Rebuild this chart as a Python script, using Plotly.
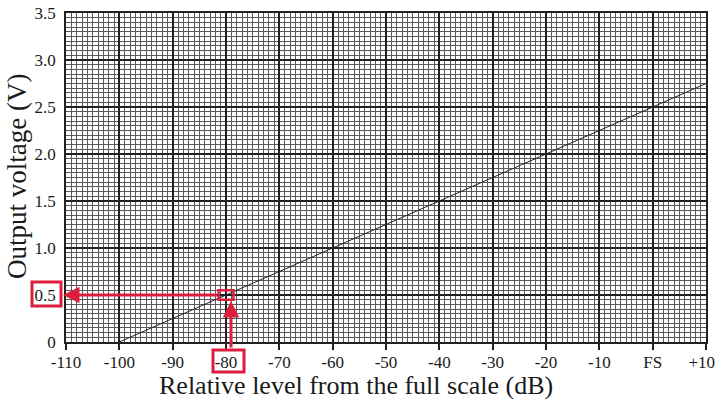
import plotly.graph_objects as go

# Data
level_db = [-100, 10]
voltage = [0.0, 2.75]
x_tick_vals = [-110, -100, -90, -80, -70, -60, -50, -40, -30, -20, -10, 0, 10]
x_tick_text = ["-110", "-100", "-90", "-80", "-70", "-60", "-50", "-40", "-30", "-20", "-10", "FS", "+10\u00a0\u00a0"]
y_tick_vals = [0, 0.5, 1.0, 1.5, 2.0, 2.5, 3.0, 3.5]
y_tick_text = ["0", "0.5", "1.0", "1.5", "2.0", "2.5", "3.0", "3.5"]
marker_db = -80
marker_v = 0.5

RED = "#dc1f3f"
INK = "#1a1a1a"
FONT = "Liberation Serif"

X0, X1 = -110, 10
Y0, Y1 = 0, 3.5

fig = go.Figure()
fig.add_trace(go.Scatter(x=level_db, y=voltage, mode="lines",
                         line=dict(color="#222222", width=1), hoverinfo="skip",
                         showlegend=False))

L, R, T, B = 66, 12, 13, 58
W, H = 718, 400
pw, ph = W - L - R, H - T - B

def px(xp):
    return (xp - L) / pw

def py(yp):
    return (H - B - yp) / ph

def dx(xp):
    return X0 + px(xp) * (X1 - X0)

def dy(yp):
    return Y0 + py(yp) * (Y1 - Y0)

fig.update_layout(
    width=W, height=H,
    margin=dict(l=L, r=R, t=T, b=B, autoexpand=False),
    paper_bgcolor="white", plot_bgcolor="white",
    font=dict(family=FONT, color=INK, size=17),
    xaxis=dict(range=[X0, X1], tickvals=x_tick_vals, ticktext=x_tick_text,
               showgrid=True, gridcolor="#222222", gridwidth=1.6,
               ticks="outside", ticklen=6, tickcolor="#222222", tickwidth=1.6,
               ticklabelstandoff=-2, ticklabeloverflow="allow", automargin=False,
               minor=dict(dtick=1, showgrid=True, gridcolor="#5a5a5a", gridwidth=1),
               showline=True, linecolor="#222222", linewidth=1.6, mirror=True,
               zeroline=False, fixedrange=True),
    yaxis=dict(range=[Y0, Y1], tickvals=y_tick_vals, ticktext=y_tick_text,
               showgrid=True, gridcolor="#222222", gridwidth=1.6,
               ticks="", ticklabelstandoff=5, ticklabeloverflow="allow", automargin=False,
               minor=dict(dtick=0.05, showgrid=True, gridcolor="#5a5a5a", gridwidth=1),
               showline=True, linecolor="#222222", linewidth=1.6, mirror=True,
               zeroline=False, fixedrange=True),
)

# axis titles
fig.add_annotation(text="Relative level from the full scale (dB)", xref="paper", yref="paper",
                   x=px(356), y=py(386), xanchor="center", yanchor="middle",
                   showarrow=False, font=dict(size=26, family=FONT, color=INK))
fig.add_annotation(text="Output voltage (V)", xref="paper", yref="paper",
                   x=px(17), y=py(177), xanchor="center", yanchor="middle", textangle=-90,
                   showarrow=False, font=dict(size=27, family=FONT, color=INK))

# red box around the 0.5 tick label
fig.add_shape(type="rect", xref="paper", yref="paper",
              x0=px(32), x1=px(61), y0=py(306), y1=py(282),
              line=dict(color=RED, width=3), fillcolor="rgba(0,0,0,0)")
# red box around the -80 tick label
fig.add_shape(type="rect", xref="paper", yref="paper",
              x0=px(213), x1=px(244), y0=py(372), y1=py(350),
              line=dict(color=RED, width=3), fillcolor="rgba(0,0,0,0)")
# small square around the reading point
fig.add_shape(type="rect", xref="x", yref="y",
              x0=marker_db - 1.4, x1=marker_db + 1.4,
              y0=marker_v - 0.05, y1=marker_v + 0.05,
              line=dict(color=RED, width=2.5), fillcolor="rgba(0,0,0,0)")

# vertical arrow from -80 label up to the point
fig.add_annotation(x=dx(231), y=dy(301), xref="x", yref="y",
                   ax=dx(231), ay=dy(349), axref="x", ayref="y",
                   showarrow=True, arrowhead=2, arrowsize=1.1, arrowwidth=3,
                   arrowcolor=RED, text="", standoff=0)
# horizontal arrow from point to the 0.5 label
fig.add_annotation(x=dx(63), y=marker_v, xref="x", yref="y",
                   ax=marker_db - 1.4, ay=marker_v, axref="x", ayref="y",
                   showarrow=True, arrowhead=2, arrowsize=1.1, arrowwidth=3,
                   arrowcolor=RED, text="", standoff=0)

fig.write_html("out.html", config={"displayModeBar": False},
               post_script="document.body.style.margin='0';document.body.style.overflow='hidden';")
